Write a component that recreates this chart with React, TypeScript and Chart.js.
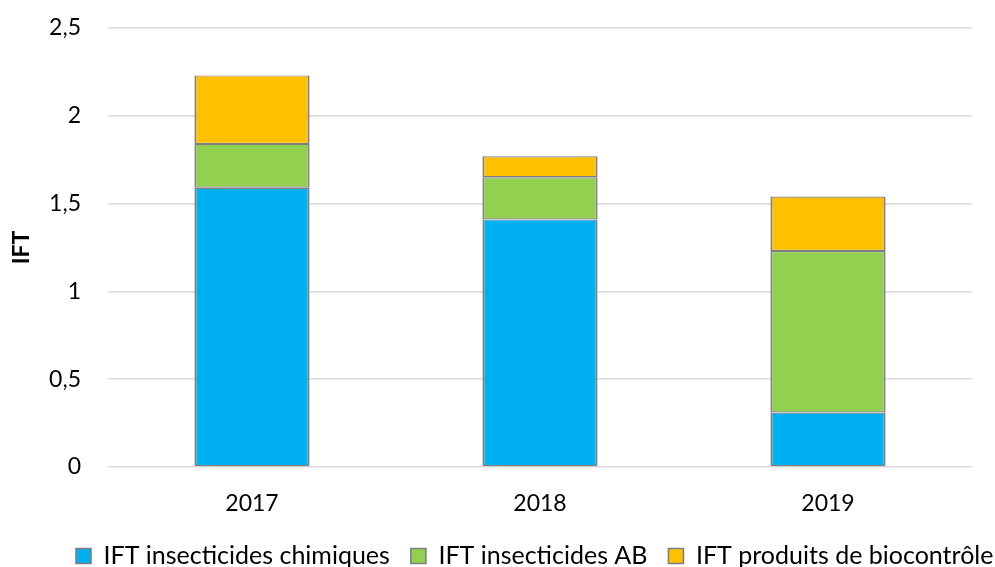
import React, { useEffect, useRef } from 'react';
import { Chart, registerables } from 'chart.js';

Chart.register(...registerables);

const categories = ['2017', '2018', '2019'];
const seriesNames = ['IFT insecticides chimiques', 'IFT insecticides AB', 'IFT produits de biocontrôle'];
const chimiques = [1.59, 1.41, 0.31];
const insecticidesAB = [0.25, 0.24, 0.92];
const biocontrole = [0.39, 0.12, 0.31];
const seriesColors = ['#00B0F0', '#92D050', '#FFC000'];
const yMin = 0;
const yMax = 2.5;
const yStep = 0.5;
const yTitle = 'IFT';

const FONT = 'Lato, "Open Sans", sans-serif';

const layoutPlugin = {
  id: 'layoutTweaks',
  beforeUpdate(chart: any) {
    const lg = chart.legend;
    if (lg && !lg.__patched) {
      const orig = lg.fit;
      lg.fit = function () {
        orig.call(this);
        this.height = 44.5;
      };
      lg.__patched = true;
    }
  },
  afterLayout(chart: any) {
    const lg = chart.legend;
    if (lg) {
      lg.left = 55;
      lg.right = 1040;
      lg.width = lg.right - lg.left;
    }
  },
};

export default function App() {
  const ref = useRef<HTMLCanvasElement | null>(null);

  useEffect(() => {
    document.body.style.margin = '0';
    const canvas = ref.current;
    if (!canvas) return;
    const values = [chimiques, insecticidesAB, biocontrole];
    const chart = new Chart(canvas, {
      type: 'bar',
      data: {
        labels: categories,
        datasets: seriesNames.map((name, i) => ({
          label: name,
          data: values[i],
          backgroundColor: seriesColors[i],
          borderColor: '#7f7f7f',
          borderWidth: { top: 1.2, bottom: 1.2, left: 2, right: 2 },
          borderSkipped: false,
          barPercentage: 0.4,
          categoryPercentage: 1,
        })),
      },
      plugins: [layoutPlugin],
      options: {
        responsive: false,
        maintainAspectRatio: false,
        animation: false,
        layout: { padding: { left: 4, right: 23, top: 28, bottom: 0 } },
        plugins: {
          tooltip: { enabled: false },
          legend: {
            position: 'bottom',
            align: 'start',
            labels: {
              color: '#000',
              font: { family: FONT, size: 25 },
              boxWidth: 15,
              boxHeight: 15,
              padding: 21,
            },
          },
        },
        scales: {
          x: {
            stacked: true,
            grid: { display: false, drawTicks: false, tickLength: 0 },
            border: { display: false },
            ticks: { color: '#000', font: { family: FONT, size: 23 }, padding: 23 },
            afterFit: (s: any) => {
              s.height = 55.5;
              s.paddingLeft = 0;
              s.paddingRight = 0;
            },
          },
          y: {
            stacked: true,
            min: yMin,
            max: yMax,
            ticks: {
              stepSize: yStep,
              color: '#000',
              font: { family: FONT, size: 23 },
              padding: 27,
              callback: (v: any) => String(v).replace('.', ','),
            },
            grid: { color: '#d9d9d9', lineWidth: 1.5, drawTicks: false, tickLength: 0 },
            border: { display: false },
            title: {
              display: true,
              text: yTitle,
              color: '#000',
              font: { family: FONT, size: 23, weight: 'bold' },
              padding: { top: 4, bottom: 4 },
            },
            afterFit: (s: any) => {
              s.width = 104;
              s.paddingTop = 0;
              s.paddingBottom = 0;
            },
          },
        },
      },
    });
    return () => chart.destroy();
  }, []);

  return (
    <div style={{ position: 'absolute', left: 0, top: 0, width: 995, height: 567, background: '#fff' }}>
      <canvas ref={ref} width={995} height={567} style={{ width: 995, height: 567 }} />
    </div>
  );
}
